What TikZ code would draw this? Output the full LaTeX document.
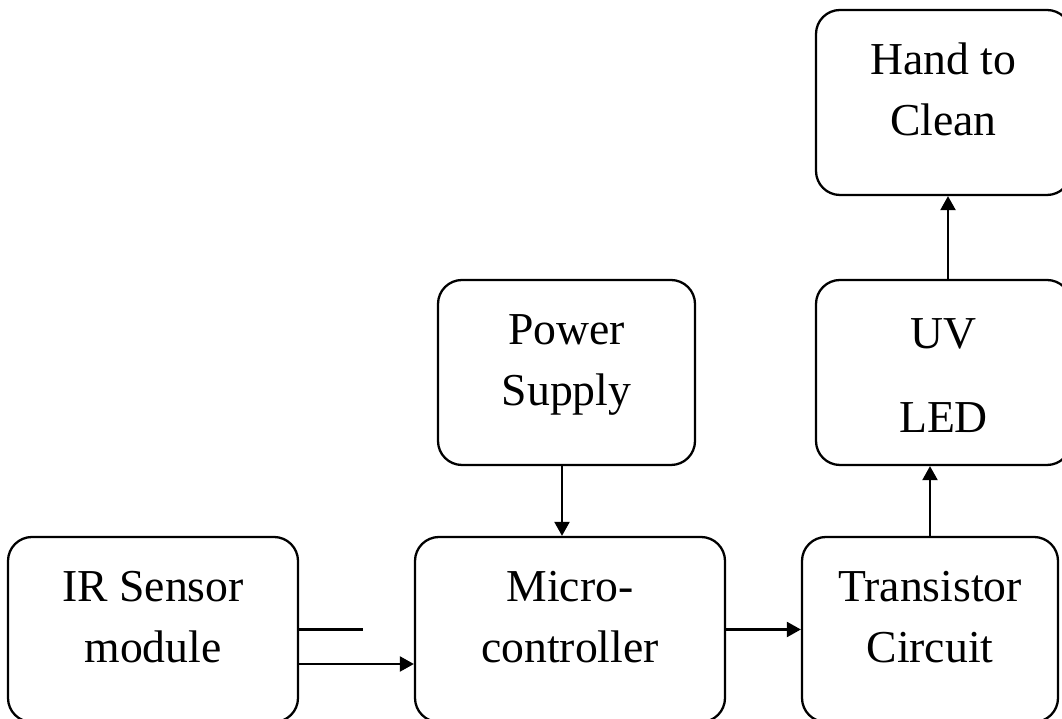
\documentclass[tikz,border=0pt]{standalone}
\usepackage{fontspec}
\setmainfont{Liberation Serif}
\usetikzlibrary{arrows.meta, positioning, calc}
\tikzset{
  blk/.style  = {rectangle, rounded corners=0.48cm, draw=black, line width=1.3pt,
                 align=center, font=\fontsize{26}{34.5}\selectfont,
                 text height=1.32cm, text depth=0cm,
                 minimum height=3.7cm},
  flow/.style = {-{Triangle[length=0.28cm, width=0.3cm]}, line width=1.3pt},
  >=Stealth
}
\begin{document}
\begin{tikzpicture}

\useasboundingbox (0,0) rectangle (21.24,14.38);

% ── Row y-coordinates (bottom → top) ─────────────────────────────────────
\def\yBot{1.79}
\def\yMid{6.93}
\def\yTop{12.33}

% ── Bottom row ───────────────────────────────────────────────────────────
\node[blk, minimum width=5.8cm]  (ir) at (3.06, \yBot)  {IR Sensor\\module};
\node[blk, minimum width=6.2cm]  (mc) at (11.4, \yBot)  {Micro-\\controller};
\node[blk, minimum width=5.12cm] (tr) at (18.6, \yBot)  {Transistor\\Circuit};

% ── Middle row ───────────────────────────────────────────────────────────
\node[blk, minimum width=5.14cm] (ps) at (11.33, \yMid) {Power\\Supply};
\node[blk, minimum width=5.1cm, text height=2.42cm]
      (uv) at (18.87, \yMid) {UV\\[0.48cm]LED};

% ── Top row ──────────────────────────────────────────────────────────────
\node[blk, minimum width=5.1cm]  (hand) at (18.87, \yTop) {Hand to\\Clean};

% ── Connectors ───────────────────────────────────────────────────────────
\coordinate (stub) at ([xshift=1.28cm]ir.east);
\draw[line width=1.3pt] (ir.east) -- (stub);
\draw[flow] ([yshift=-0.69cm]ir.east) -- ([yshift=-0.69cm]mc.west);
\draw[flow] ([xshift=-0.09cm]ps.south) -- ([xshift=-0.09cm]ps.south |- mc.north);
\draw[flow] (mc.east) -- (tr.west);
\draw[flow] (tr.north) -- (tr.north |- uv.south);
\draw[flow] ([xshift=0.09cm]uv.north) -- ([xshift=0.09cm]hand.south);

\end{tikzpicture}
\end{document}
